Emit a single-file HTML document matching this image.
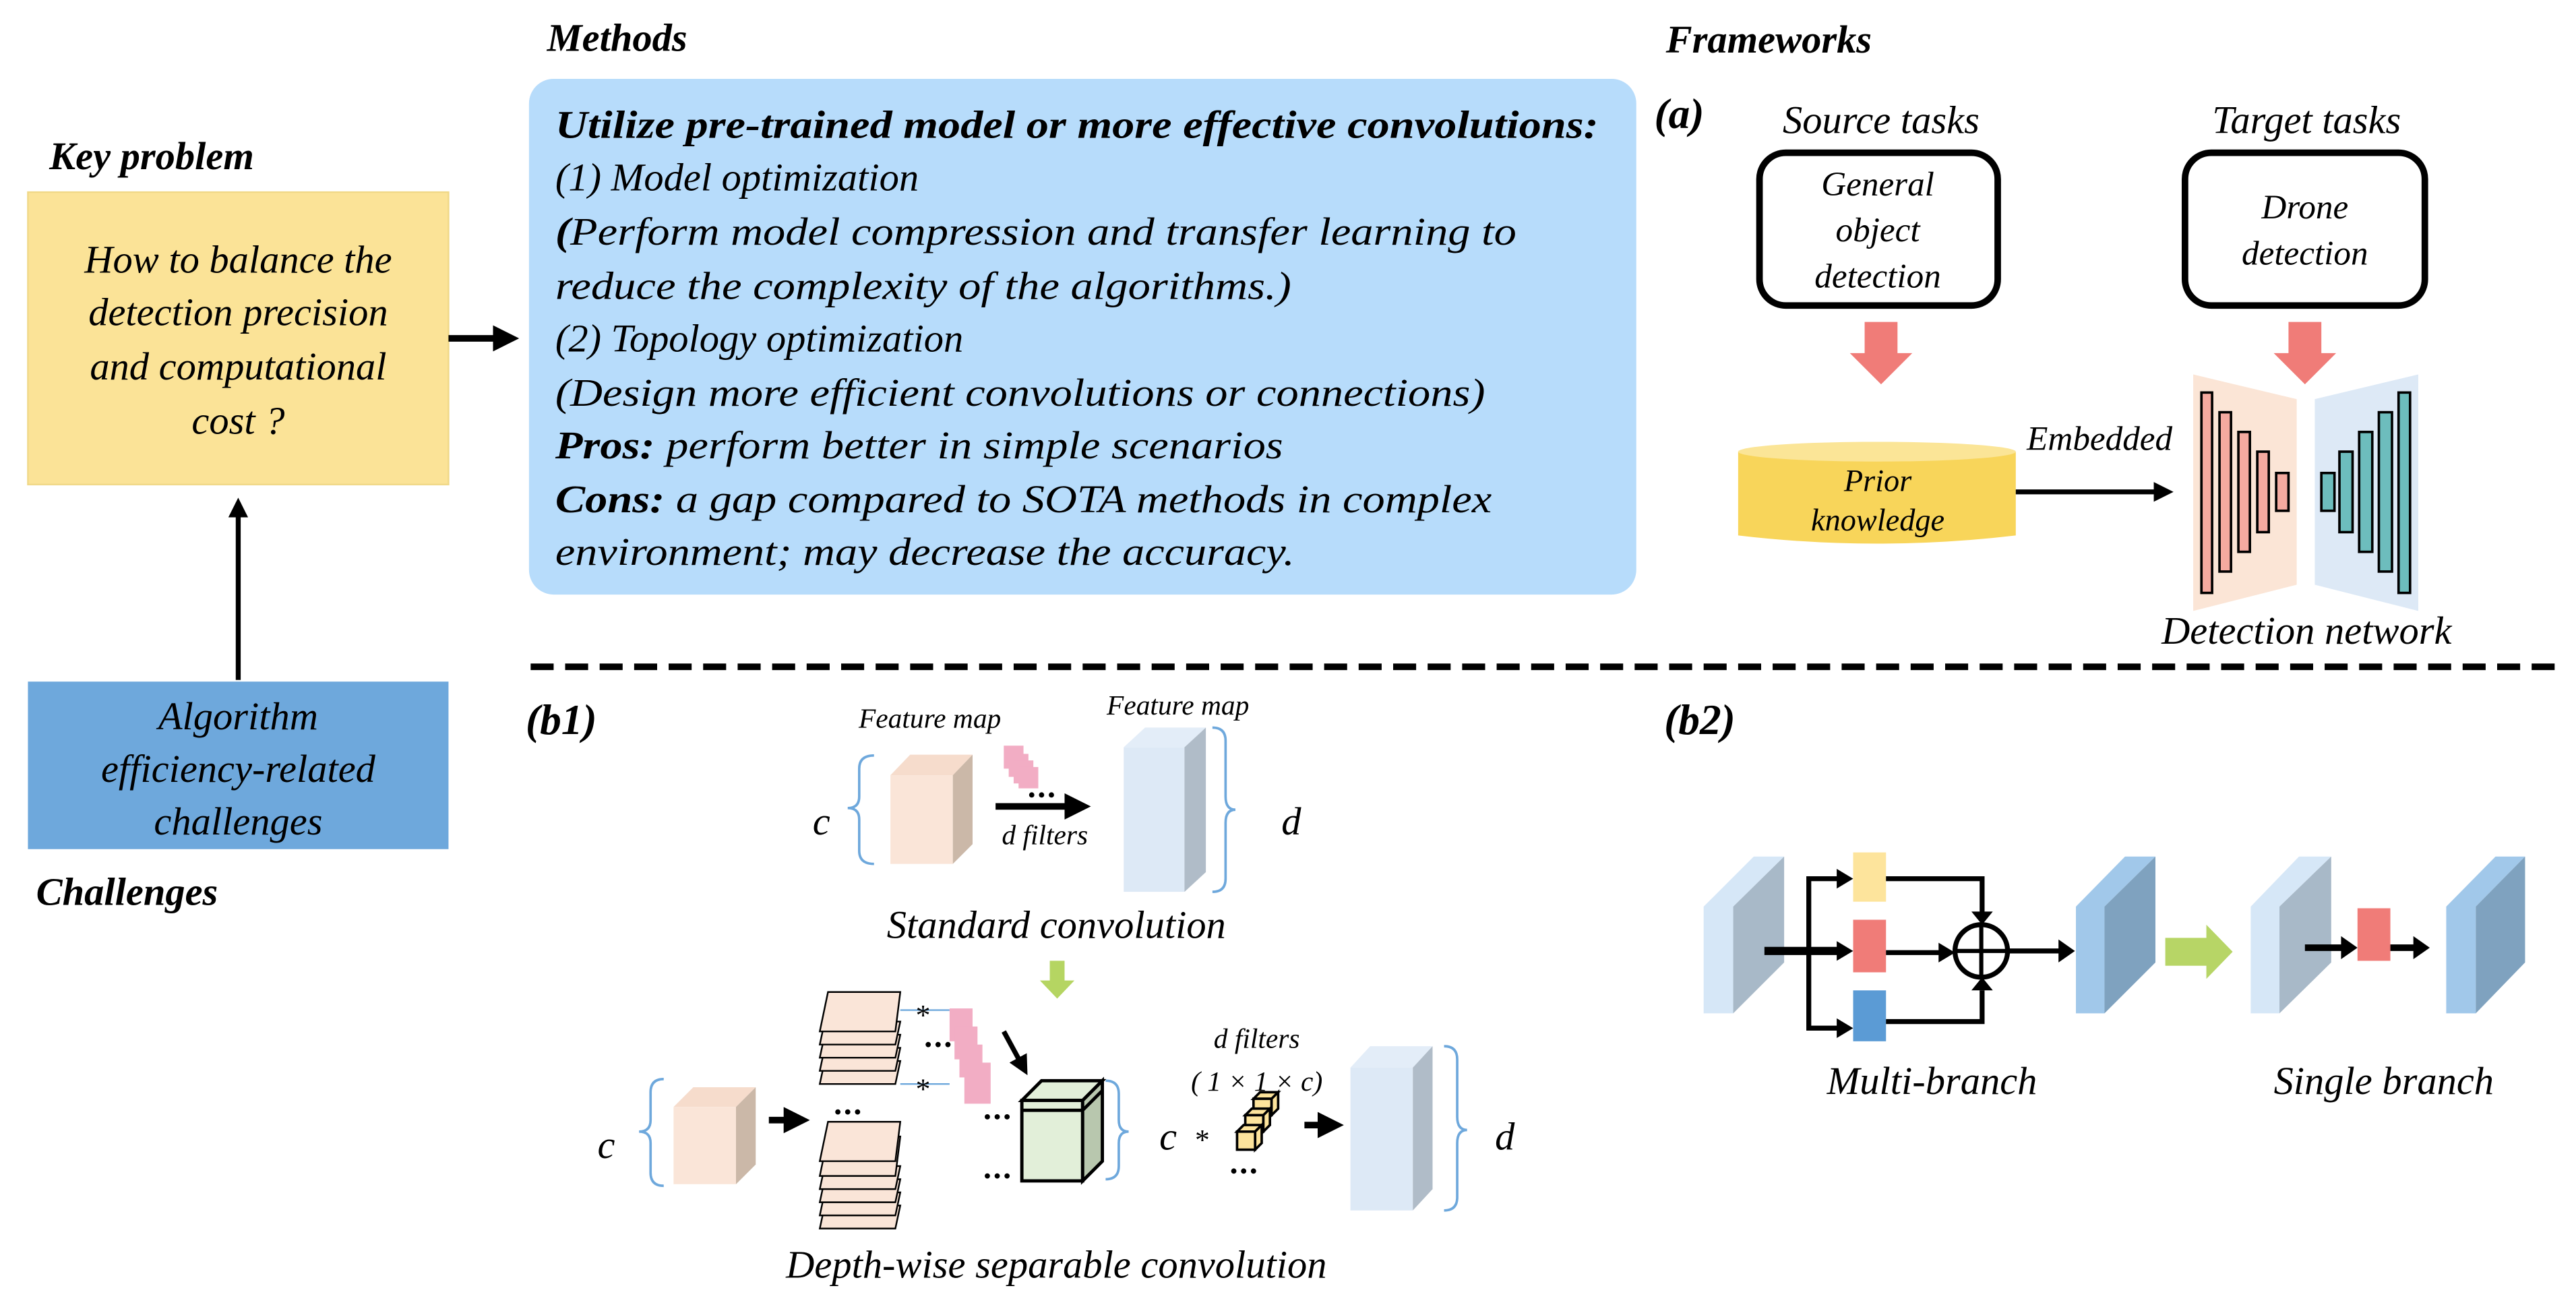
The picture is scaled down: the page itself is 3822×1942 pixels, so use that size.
<!DOCTYPE html>
<html><head><meta charset="utf-8"><style>
html,body{margin:0;padding:0;background:#fff;}
svg{display:block;font-family:"Liberation Serif","DejaVu Serif",serif;}
svg text{font-family:"Liberation Serif","DejaVu Serif",serif;font-style:italic;fill:#000;}
.b{font-weight:bold;}
</style></head><body>
<svg width="3822" height="1942" viewBox="0 0 1568 797" preserveAspectRatio="none" xmlns="http://www.w3.org/2000/svg" font-style="italic">
<defs>
<marker id="ah" markerWidth="4" markerHeight="4" refX="3" refY="2" orient="auto" markerUnits="strokeWidth"><path d="M0,0 L4,2 L0,4 z" fill="#000"/></marker>
</defs>
<g>
<text x="30" y="103" font-size="24" class="b">Key problem</text>
<rect x="17" y="117" width="256" height="178" fill="#fbe397" stroke="#f0d888" stroke-width="1"/>
<g font-size="24" text-anchor="middle">
<text x="145" y="166">How to balance the</text>
<text x="145" y="198">detection precision</text>
<text x="145" y="231">and computational</text>
<text x="145" y="264">cost ?</text>
</g>
<line x1="145" y1="414" x2="145" y2="306" stroke="#000" stroke-width="3" marker-end="url(#ah)"/>
<rect x="17" y="415" width="256" height="102" fill="#6ea8dc"/>
<g font-size="24" text-anchor="middle">
<text x="145" y="444">Algorithm</text>
<text x="145" y="476">efficiency-related</text>
<text x="145" y="508">challenges</text>
</g>
<text x="22" y="551" font-size="24" class="b">Challenges</text>
<line x1="273" y1="206" x2="312" y2="206" stroke="#000" stroke-width="4" marker-end="url(#ah)"/>

<text x="333" y="31" font-size="24" class="b">Methods</text>
<rect x="322" y="48" width="674" height="314" rx="15" fill="#b7dcfb"/>
<g font-size="24">
<text x="338" y="84" class="b" textLength="635" lengthAdjust="spacingAndGlyphs">Utilize pre-trained model or more effective convolutions:</text>
<text x="338" y="116">(1) Model optimization</text>
<text x="338" y="149" textLength="585" lengthAdjust="spacingAndGlyphs"><tspan class="b">(</tspan>Perform model compression and transfer learning to</text>
<text x="338" y="182" textLength="448" lengthAdjust="spacingAndGlyphs">reduce the complexity of the algorithms.)</text>
<text x="338" y="214">(2) Topology optimization</text>
<text x="338" y="247" textLength="566" lengthAdjust="spacingAndGlyphs">(Design more efficient convolutions or connections)</text>
<text x="338" y="279" textLength="443" lengthAdjust="spacingAndGlyphs"><tspan class="b">Pros:</tspan> perform better in simple scenarios</text>
<text x="338" y="312" textLength="570" lengthAdjust="spacingAndGlyphs"><tspan class="b">Cons:</tspan> a gap compared to SOTA methods in complex</text>
<text x="338" y="344" textLength="450" lengthAdjust="spacingAndGlyphs">environment; may decrease the accuracy.</text>
</g>

<text x="1014" y="32" font-size="24" class="b">Frameworks</text>
<text x="1007" y="78" font-size="26" class="b">(a)</text>
<text x="1145" y="81" font-size="24" text-anchor="middle">Source tasks</text>
<text x="1404" y="81" font-size="24" text-anchor="middle">Target tasks</text>
<rect x="1071" y="93" width="145" height="93" rx="16" fill="#fff" stroke="#000" stroke-width="4"/>
<g font-size="21" text-anchor="middle">
<text x="1143" y="119">General</text>
<text x="1143" y="147">object</text>
<text x="1143" y="175">detection</text>
</g>
<rect x="1330" y="93" width="146" height="93" rx="16" fill="#fff" stroke="#000" stroke-width="4"/>
<g font-size="21" text-anchor="middle">
<text x="1403" y="133">Drone</text>
<text x="1403" y="161">detection</text>
</g>
<polygon points="1135,196 1155,196 1155,215 1164,215 1145,234 1126,215 1135,215" fill="#f07c78"/>
<polygon points="1393,196 1413,196 1413,215 1422,215 1403,234 1384,215 1393,215" fill="#f07c78"/>
<path d="M1058,275 L1058,326 Q1143,336 1227,326 L1227,275 Z" fill="#f8d55a"/>
<ellipse cx="1142.5" cy="275" rx="84.5" ry="6" fill="#fbe597"/>
<text x="1143" y="299" font-size="19" text-anchor="middle">Prior</text>
<text x="1143" y="323" font-size="19" text-anchor="middle">knowledge</text>
<line x1="1227" y1="299.5" x2="1320" y2="299.5" stroke="#000" stroke-width="3" marker-end="url(#ah)"/>
<text x="1278" y="274" font-size="21" text-anchor="middle">Embedded</text>
<polygon points="1335,228 1398,243 1398,356 1335,372" fill="#fbe5d6"/>
<polygon points="1409,243 1472,228 1472,372 1409,356" fill="#dde9f6"/>
<g fill="#f4aaa0" stroke="#000" stroke-width="1.5">
<rect x="1340" y="239" width="6.5" height="122"/>
<rect x="1351" y="251" width="7" height="97"/>
<rect x="1362.5" y="263" width="7" height="73"/>
<rect x="1374" y="275" width="7" height="49"/>
<rect x="1385.5" y="288" width="7.5" height="23"/>
</g>
<g fill="#6dbdbd" stroke="#000" stroke-width="1.5">
<rect x="1413" y="288" width="8" height="23"/>
<rect x="1424" y="275" width="8" height="49"/>
<rect x="1436" y="263" width="8" height="73"/>
<rect x="1448" y="251" width="8" height="97"/>
<rect x="1460" y="239" width="7" height="122"/>
</g>
<text x="1404" y="392" font-size="24" text-anchor="middle">Detection network</text>

<line x1="323" y1="406" x2="1555" y2="406" stroke="#000" stroke-width="4" stroke-dasharray="14 7"/>

<text x="320" y="447" font-size="26" class="b">(b1)</text>
<text x="566" y="443" font-size="17" text-anchor="middle">Feature map</text>
<text x="717" y="435" font-size="17" text-anchor="middle">Feature map</text>
<path d="M532,460 Q523,460 523,468 L523,485 Q523,492 516,492 Q523,492 523,499 L523,518 Q523,526 532,526" fill="none" stroke="#6ea8dc" stroke-width="1.5"/>
<text x="500" y="508" font-size="24" text-anchor="middle">c</text>
<polygon points="542,472 554,459.5 592,459.5 580,472" fill="#f6dccc"/>
<rect x="542" y="472" width="38" height="54" fill="#fae5d8"/>
<polygon points="580,472 592,459.5 592,514 580,526" fill="#cbb8a8"/>
<g fill="#f2adc4">
<rect x="611" y="454" width="12" height="14"/>
<rect x="614" y="459" width="12" height="14"/>
<rect x="617" y="463" width="12" height="14"/>
<rect x="620" y="467" width="12" height="13"/>
</g>
<g fill="#000"><circle cx="628" cy="484" r="1.6"/><circle cx="634" cy="484" r="1.6"/><circle cx="640" cy="484" r="1.6"/></g>
<line x1="606" y1="491" x2="660" y2="491" stroke="#000" stroke-width="4" marker-end="url(#ah)"/>
<text x="636" y="514" font-size="17" text-anchor="middle">d filters</text>
<polygon points="684,455 697,443 734,443 721,455" fill="#e3edf8"/>
<rect x="684" y="455" width="37" height="88" fill="#dde9f6"/>
<polygon points="721,455 734,443 734,531 721,543" fill="#b0bcc8"/>
<path d="M738,443 Q746,443 746,451 L746,485 Q746,493 752,493 Q746,493 746,501 L746,535 Q746,543 738,543" fill="none" stroke="#6ea8dc" stroke-width="1.5"/>
<text x="786" y="508" font-size="24" text-anchor="middle">d</text>
<text x="643" y="571" font-size="24" text-anchor="middle">Standard convolution</text>
<polygon points="639,585 648,585 648,597 654,597 643.5,608 633,597 639,597" fill="#b5d562"/>

<path d="M404,657 Q396,657 396,665 L396,682 Q396,689 389,689 Q396,689 396,696 L396,714 Q396,722 404,722" fill="none" stroke="#6ea8dc" stroke-width="1.5"/>
<text x="369" y="705" font-size="24" text-anchor="middle">c</text>
<polygon points="410,674 422,662 460,662 448,674" fill="#f6dccc"/>
<rect x="410" y="674" width="38" height="47" fill="#fae5d8"/>
<polygon points="448,674 460,662 460,709 448,721" fill="#cbb8a8"/>
<line x1="468" y1="682" x2="489" y2="682" stroke="#000" stroke-width="4" marker-end="url(#ah)"/>
<g fill="#fae5d8" stroke="#000" stroke-width="1">
<polygon points="499,660 545,660 548,646 502,646"/>
<polygon points="499,652 545,652 548,638 502,638"/>
<polygon points="499,644 545,644 548,630 502,630"/>
<polygon points="499,636 545,636 548,622 502,622"/>
<polygon points="499,628 545,628 548,604 504,604"/>
<polygon points="499,748 545,748 548,734 502,734"/>
<polygon points="499,740 545,740 548,726 502,726"/>
<polygon points="499,732 545,732 548,718 502,718"/>
<polygon points="499,724 545,724 548,710 502,710"/>
<polygon points="499,716 545,716 548,692 504,692"/>
<polygon points="499,707 545,707 548,683 504,683"/>
</g>
<g fill="#000">
<circle cx="510" cy="677" r="1.6"/><circle cx="516" cy="677" r="1.6"/><circle cx="522" cy="677" r="1.6"/>
<circle cx="565" cy="636" r="1.6"/><circle cx="571" cy="636" r="1.6"/><circle cx="577" cy="636" r="1.6"/>
<circle cx="601" cy="680" r="1.6"/><circle cx="607" cy="680" r="1.6"/><circle cx="613" cy="680" r="1.6"/>
<circle cx="601" cy="716" r="1.6"/><circle cx="607" cy="716" r="1.6"/><circle cx="613" cy="716" r="1.6"/>
<circle cx="751" cy="713" r="1.6"/><circle cx="757" cy="713" r="1.6"/><circle cx="763" cy="713" r="1.6"/>
</g>
<line x1="548" y1="615" x2="578" y2="615" stroke="#6ea8dc" stroke-width="1"/>
<line x1="548" y1="660" x2="578" y2="660" stroke="#6ea8dc" stroke-width="1"/>
<text x="561" y="624" font-size="18" font-style="normal" text-anchor="middle">*</text>
<text x="561" y="669" font-size="18" font-style="normal" text-anchor="middle">*</text>
<g fill="#f2adc4">
<rect x="578" y="614" width="14" height="20"/>
<rect x="581" y="625" width="14" height="20"/>
<rect x="584" y="636" width="14" height="20"/>
<rect x="587" y="647" width="16" height="25"/>
</g>
<line x1="611" y1="628" x2="624" y2="652" stroke="#000" stroke-width="3" marker-end="url(#ah)"/>
<g stroke="#000" stroke-width="2">
<polygon points="622,670 634,658 671,658 659,670" fill="#e2efd9"/>
<rect x="622" y="670" width="37" height="49" fill="#e2efd9"/>
<polygon points="659,670 671,658 671,707 659,719" fill="#b8c7ae"/>
<line x1="622" y1="676" x2="659" y2="676"/>
<line x1="659" y1="676" x2="671" y2="664"/>
</g>
<path d="M673,658 Q681,658 681,666 L681,682 Q681,689 687,689 Q681,689 681,696 L681,710 Q681,718 673,718" fill="none" stroke="#6ea8dc" stroke-width="1.5"/>
<text x="711" y="700" font-size="24" text-anchor="middle">c</text>
<text x="731" y="700" font-size="18" font-style="normal" text-anchor="middle">*</text>
<text x="765" y="638" font-size="17" text-anchor="middle">d filters</text>
<text x="765" y="664" font-size="17" text-anchor="middle">( 1 × 1 × c)</text>
<g fill="#fde49c" stroke="#000" stroke-width="1.5">
<polygon points="763,669 767,665 778,665 774,669"/><rect x="763" y="669" width="11" height="10"/><polygon points="774,669 778,665 778,675 774,679"/>
<polygon points="758,679 762,675 773,675 769,679"/><rect x="758" y="679" width="11" height="10"/><polygon points="769,679 773,675 773,685 769,689"/>
<polygon points="753,689 757,685 768,685 764,689"/><rect x="753" y="689" width="11" height="11"/><polygon points="764,689 768,685 768,696 764,700"/>
</g>
<line x1="794" y1="685" x2="814" y2="685" stroke="#000" stroke-width="4" marker-end="url(#ah)"/>
<polygon points="822,650 834,637 872,637 860,650" fill="#e3edf8"/>
<rect x="822" y="650" width="38" height="87" fill="#dde9f6"/>
<polygon points="860,650 872,637 872,724 860,737" fill="#b0bcc8"/>
<path d="M879,637 Q887,637 887,645 L887,680 Q887,688 893,688 Q887,688 887,696 L887,729 Q887,737 879,737" fill="none" stroke="#6ea8dc" stroke-width="1.5"/>
<text x="916" y="700" font-size="24" text-anchor="middle">d</text>
<text x="643" y="778" font-size="24" text-anchor="middle">Depth-wise separable convolution</text>

<text x="1013" y="447" font-size="26" class="b">(b2)</text>
<polygon points="1037,617 1037,552 1067.5,521.5 1086,521.5 1055,552 1055,617" fill="#d6e7f7"/>
<polygon points="1055,552 1086,521.5 1086,586 1055,617" fill="#a8b9c8"/>
<polygon points="1263.6,617 1263.6,552 1293.5,521.5 1312,521.5 1281,552 1281,617" fill="#a1c8ea"/>
<polygon points="1281,552 1312,521.5 1312,586 1281,617" fill="#7fa2bf"/>
<polygon points="1370,617 1370,552 1399.4,521.5 1419,521.5 1387.5,552 1387.5,617" fill="#d6e7f7"/>
<polygon points="1387.5,552 1419,521.5 1419,586 1387.5,617" fill="#a8b9c8"/>
<polygon points="1489,617 1489,552 1519,521.5 1537,521.5 1507,552 1507,617" fill="#a1c8ea"/>
<polygon points="1507,552 1537,521.5 1537,586 1507,617" fill="#7fa2bf"/>
<rect x="1128" y="519" width="20" height="30" fill="#fde49c"/>
<rect x="1128" y="560" width="20" height="32" fill="#f07c78"/>
<rect x="1128" y="603" width="20" height="31" fill="#5b9bd5"/>
<g stroke="#000" fill="none">
<line x1="1074" y1="579" x2="1120" y2="579" stroke-width="5"/>
<polyline points="1120,535 1101,535 1101,626 1120,626" stroke-width="3"/>
<polyline points="1148,535 1206.5,535 1206.5,556" stroke-width="3"/>
<polyline points="1148,622 1206.5,622 1206.5,603" stroke-width="3"/>
<line x1="1148" y1="580" x2="1182" y2="580" stroke-width="3"/>
<line x1="1223" y1="579" x2="1255" y2="579" stroke-width="3"/>
<circle cx="1206" cy="579" r="16" stroke-width="3"/>
<line x1="1190" y1="579" x2="1222" y2="579" stroke-width="2.5"/>
<line x1="1206" y1="563" x2="1206" y2="595" stroke-width="2.5"/>
</g>
<g fill="#000">
<polygon points="1118,529 1128,535 1118,541"/>
<polygon points="1118,573 1128,579 1118,585"/>
<polygon points="1118,620 1128,626 1118,632"/>
<polygon points="1200,555 1206.5,563 1213,555"/>
<polygon points="1200,603 1206.5,595 1213,603"/>
<polygon points="1180,574 1190,580 1180,586"/>
<polygon points="1253,572 1263,579 1253,586"/>
</g>
<polygon points="1318,571 1343,571 1343,563 1359,579.5 1343,596 1343,588 1318,588" fill="#b7d566"/>
<line x1="1403" y1="577" x2="1427" y2="577" stroke="#000" stroke-width="4"/>
<polygon points="1425,570 1435,577 1425,584" fill="#000"/>
<rect x="1435" y="553" width="20" height="32" fill="#f07c78"/>
<line x1="1455" y1="577" x2="1471" y2="577" stroke="#000" stroke-width="4"/>
<polygon points="1469,570 1479,577 1469,584" fill="#000"/>
<text x="1176" y="666" font-size="24" text-anchor="middle">Multi-branch</text>
<text x="1451" y="666" font-size="24" text-anchor="middle">Single branch</text>
</g>
</svg>
</body></html>
